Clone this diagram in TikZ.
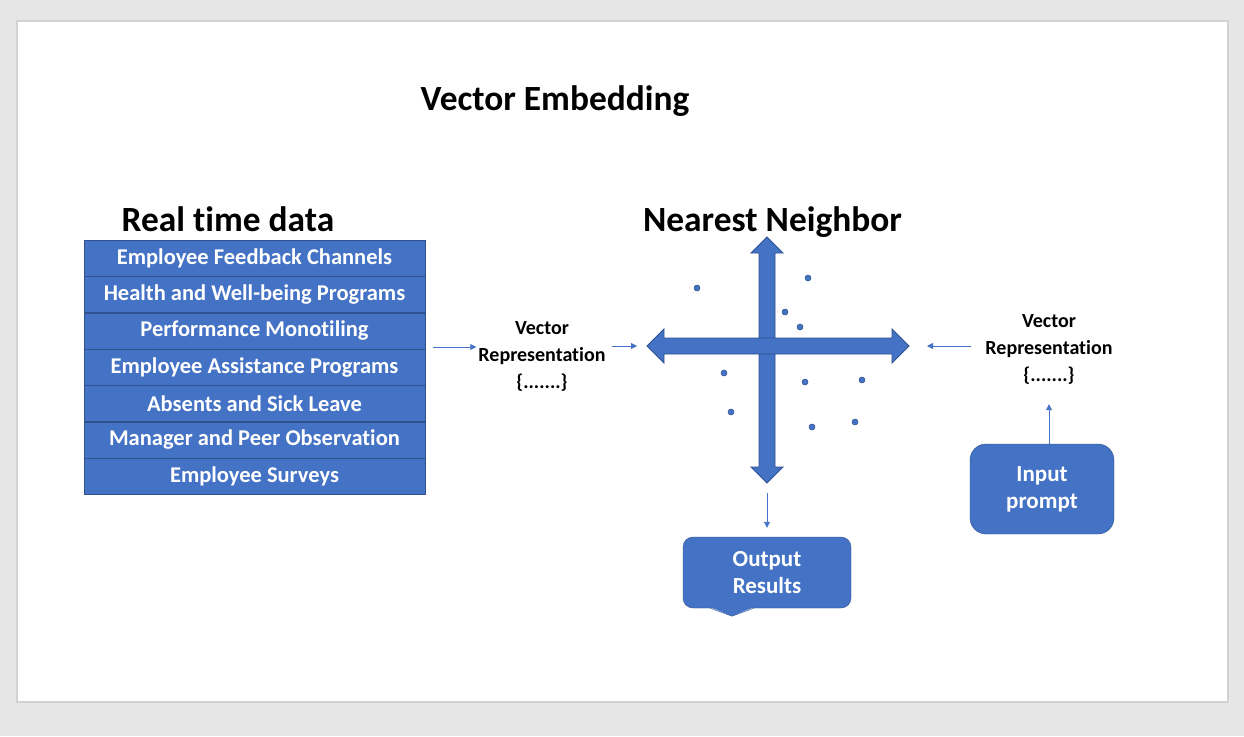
\documentclass[tikz,border=0pt]{standalone}
\usepackage{fontspec}
\setmainfont{Carlito}[Ligatures=CommonOff]
\usepackage{tikz}
\usetikzlibrary{arrows.meta, positioning, calc}
\definecolor{boxblue}{RGB}{68,114,196}
\definecolor{boxedge}{RGB}{47,82,143}
\definecolor{pagegray}{RGB}{230,230,230}
\definecolor{slideedge}{RGB}{210,210,210}
\tikzset{
  head/.style  ={anchor=base, inner sep=0pt, font=\bfseries\fontsize{35.4}{40}\selectfont},
  row/.style   ={rectangle, draw=boxedge, fill=boxblue, text=white, inner sep=0pt,
                 minimum width=341pt, minimum height=36pt, font=\bfseries\fontsize{22.5}{26}\selectfont},
  vec/.style   ={align=center, inner sep=2pt, font=\bfseries\fontsize{20}{27}\selectfont},
  pbox/.style  ={rectangle, draw=boxedge, fill=boxblue, text=white, align=center,
                 font=\bfseries\fontsize{23}{27}\selectfont},
  bigarr/.style={draw=boxedge, fill=boxblue, line width=0.8pt, line join=miter},
  con/.style   ={-{Triangle[length=6pt,width=6pt]}, draw=boxblue, line width=0.9pt},
}

\begin{document}
\begin{tikzpicture}[x=1pt, y=-1pt]
\useasboundingbox (0,0) rectangle (1244,736);
\fill[pagegray] (0,0) rectangle (1244,736);
\filldraw[fill=white, draw=slideedge, line width=1.5pt] (17,21) rectangle (1228,702);

% titles
\node[head] (ttl) at (555,110) {Vector Embedding};
\node[head] (rtd) at (228,231) {Real time data};
\node[head] (nn)  at (772.5,231) {Nearest Neighbor};

% real time data table
\node[row] (r1) at (254.5,258) {Employee Feedback Channels};
\node[row, below=0pt of r1] (r2) {Health and Well-being Programs};
\node[row, below=0pt of r2] (r3) {Performance Monotiling};
\node[row, below=0pt of r3] (r4) {Employee Assistance Programs};
\node[row, below=0pt of r4] (r5) {Absents and Sick Leave};
\node[row, below=0pt of r5] (r6) {Manager and Peer Observation};
\node[row, below=0pt of r6] (r7) {Employee Surveys};

\node[vec] (vecl) at (542,356) {Vector\\Representation\\\{.......\}};
\node[vec] (vecr) at (1049,349) {Vector\\Representation\\\{.......\}};

% nearest neighbor cross
\coordinate (hl) at (647,346);
\coordinate (hr) at (909,346);
\coordinate (vt) at (767,237);
\coordinate (vb) at (767,483);
\draw[bigarr] (vt) -- (783,253) -- (775,253) -- (775,467) -- (783,467) -- (vb)
  -- (751,467) -- (759,467) -- (759,253) -- (751,253) -- cycle;
\draw[bigarr] (hl) -- (664,329) -- (664,338) -- (892,338) -- (892,329) -- (hr)
  -- (892,363) -- (892,354) -- (664,354) -- (664,363) -- cycle;
\foreach \px/\py in {697/288, 808/278, 785/312, 800/327, 724/373,
                     805/382, 862/380, 731/412, 812/427, 855/422}
  \filldraw[fill=boxblue, draw=boxedge, line width=0.5pt] (\px,\py) circle (3);

% boxes
\node[pbox, rounded corners=10pt, minimum width=168pt, minimum height=71pt] (out) at (767,572.5) {Output\\Results};
\fill[boxblue] ($(out.south)+(-58,-1.5)$) -- ($(out.south)+(-12,-1.5)$) -- ($(out.south)+(-35,8)$) -- cycle;
\draw[boxedge, line width=0.4pt] ($(out.south)+(-57,0)$) -- ($(out.south)+(-35,8)$) -- ($(out.south)+(-13,0)$);
\node[pbox, rounded corners=16pt, minimum width=144pt, minimum height=90pt] (inp) at (1042,489) {Input\\prompt};

% connectors
\draw[con] ([shift={(8,-2)}]r3.south east) -- ([shift={(0,-2)}]r3.south east -| vecl.west);
\draw[con, shorten <=4pt, shorten >=10pt] (vecl.east |- hl) -- (hl);
\draw[con, shorten <=12pt, shorten >=18pt] (vecr.west |- hr) -- (hr);
\draw[con, shorten <=10pt, shorten >=9pt] (vb) -- (out.north);
\draw[con, shorten >=18pt] (inp.north -| vecr) -- (vecr.south);
\end{tikzpicture}
\end{document}
